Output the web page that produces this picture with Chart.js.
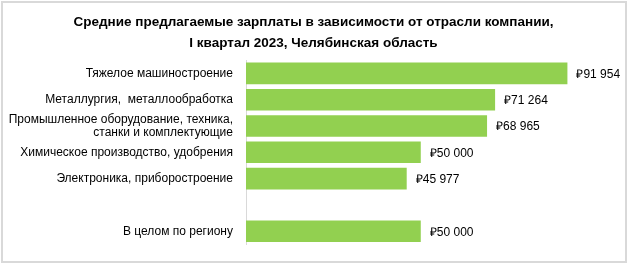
<!DOCTYPE html>
<html>
<head>
<meta charset="utf-8">
<script src="https://cdn.jsdelivr.net/npm/chart.js@4/dist/chart.umd.min.js"></script>
<style>
  html, body { margin: 0; padding: 0; background: #fff; }
  #wrap { position: relative; width: 627px; height: 264px; }
  #frame { position: absolute; left: 1px; top: 1px; width: 622px; height: 258px;
           border: 2px solid #d9d9d9; pointer-events: none; }
  canvas { position: absolute; left: 0; top: 0; }
</style>
</head>
<body>
<div id="wrap">
  <canvas id="chart" width="627" height="264"></canvas>
  <div id="frame"></div>
</div>
<script>
// chart data
const categories = [
  'Тяжелое машиностроение',
  'Металлургия,  металлообработка',
  ['Промышленное оборудование, техника,', 'станки и комплектующие'],
  'Химическое производство, удобрения',
  'Электроника, приборостроение',
  '',
  'В целом по региону'
]
const salaries = [91954, 71264, 68965, 50000, 45977, null, 50000]
const titleLines = [
  'Средние предлагаемые зарплаты в зависимости от отрасли компании,',
  'I квартал 2023, Челябинская область'
]

const fmt = (v) => '₽' + String(v).replace(/\B(?=(\d{3})+(?!\d))/g, ' ')

const valueLabels = {
  id: 'valueLabels',
  afterDatasetsDraw(chart) {
    const ctx = chart.ctx
    const meta = chart.getDatasetMeta(0)
    ctx.save()
    ctx.font = '12px "Liberation Sans", Arial, sans-serif'
    ctx.fillStyle = '#000'
    ctx.textBaseline = 'middle'
    ctx.textAlign = 'left'
    meta.data.forEach((bar, i) => {
      const v = salaries[i]
      if (v == null) return
      ctx.fillText(fmt(v), bar.x + 9, bar.y + 1)
    })
    ctx.restore()
  }
}

new Chart(document.getElementById('chart').getContext('2d'), {
  type: 'bar',
  data: {
    labels: categories,
    datasets: [{
      data: salaries,
      backgroundColor: '#92d050',
      barPercentage: 0.82,
      categoryPercentage: 1
    }]
  },
  options: {
    indexAxis: 'y',
    responsive: false,
    animation: false,
    layout: { padding: { top: 0, bottom: 17, left: 0, right: 0 } },
    plugins: {
      legend: { display: false },
      tooltip: { enabled: false },
      title: {
        display: true,
        text: titleLines,
        color: '#000',
        font: { family: '"Liberation Sans", Arial, sans-serif', size: 13.5, weight: 'bold', lineHeight: 1.6 },
        padding: { top: 11, bottom: 6 }
      }
    },
    scales: {
      x: { display: false, min: 0, max: 109000 },
      y: {
        grid: { display: false, drawTicks: false },
        border: { display: true, color: '#d9d9d9', width: 1 },
        ticks: {
          color: '#000',
          padding: 13,
          autoSkip: false,
          font: { family: '"Liberation Sans", Arial, sans-serif', size: 12, lineHeight: 1.1 }
        },
        afterFit(scale) { scale.width = 246 }
      }
    }
  },
  plugins: [valueLabels]
})
</script>
</body>
</html>
